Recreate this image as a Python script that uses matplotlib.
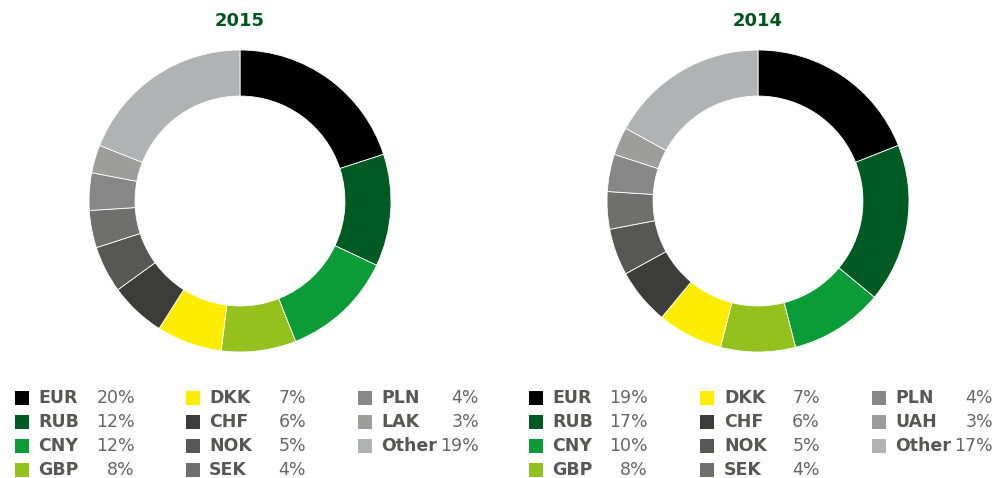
import matplotlib
matplotlib.use("Agg")
import matplotlib.pyplot as plt
from matplotlib.patches import Rectangle

# monedas y porcentajes por año
monedas_2015 = ["EUR", "RUB", "CNY", "GBP", "DKK", "CHF", "NOK", "SEK", "PLN", "LAK", "Other"]
valores_2015 = [20, 12, 12, 8, 7, 6, 5, 4, 4, 3, 19]

monedas_2014 = ["EUR", "RUB", "CNY", "GBP", "DKK", "CHF", "NOK", "SEK", "PLN", "UAH", "Other"]
valores_2014 = [19, 17, 10, 8, 7, 6, 5, 4, 4, 3, 17]

colores = ["#000000", "#005a23", "#0b9b37", "#95c11f", "#ffed00", "#3c3c3b",
           "#575756", "#6f6f6e", "#878787", "#9d9d9c", "#b1b2b3"]

W, H = 995, 478
fig = plt.figure(figsize=(W / 100, H / 100), dpi=100)

R_PX = 151  # radio exterior en pixeles


def px(x, y):
    # pixeles (origen arriba a la izquierda) -> fraccion de figura
    return x / W, 1 - y / H


def dona(cx, cy, valores, titulo):
    half = 160
    x0, y1 = px(cx - half, cy + half)
    ax = fig.add_axes([x0, y1, 2 * half / W, 2 * half / H])
    ax.pie(valores, colors=colores, startangle=90, counterclock=False,
           wedgeprops=dict(width=0.305, edgecolor="white", linewidth=0.6))
    lim = half / R_PX
    ax.set_xlim(-lim, lim)
    ax.set_ylim(-lim, lim)
    ax.set_aspect("equal")
    ax.axis("off")
    tx, ty = px(cx, 21.5)
    fig.text(tx, ty, titulo, ha="center", va="center", fontsize=13,
             fontweight="bold", color="#00551f")


def leyenda(columnas, monedas, valores):
    # columnas: (x cuadro, x etiqueta, x derecha del porcentaje)
    filas = [398, 422, 446, 470]
    for i, (m, v) in enumerate(zip(monedas, valores)):
        sq, lx, rx = columnas[i // 4]
        y = filas[i % 4]
        x0, y0 = px(sq, y + 7)
        fig.patches.append(Rectangle((x0, y0), 14 / W, 14 / H, transform=fig.transFigure,
                                     facecolor=colores[i], edgecolor="none"))
        fx, fy = px(lx, y)
        fig.text(fx, fy, m, ha="left", va="center", fontsize=12.5,
                 fontweight="bold", color="#575756")
        fx, fy = px(rx, y)
        fig.text(fx, fy, f"{v}%", ha="right", va="center", fontsize=12.5,
                 color="#666666")


dona(240, 201, valores_2015, "2015")
dona(758, 201, valores_2014, "2014")

leyenda([(15, 38, 135), (186, 209, 306), (358, 381, 479)], monedas_2015, valores_2015)
leyenda([(529, 552, 648), (700, 724, 820), (872, 895, 993)], monedas_2014, valores_2014)

fig.savefig("out.png", dpi=100, facecolor="white")
